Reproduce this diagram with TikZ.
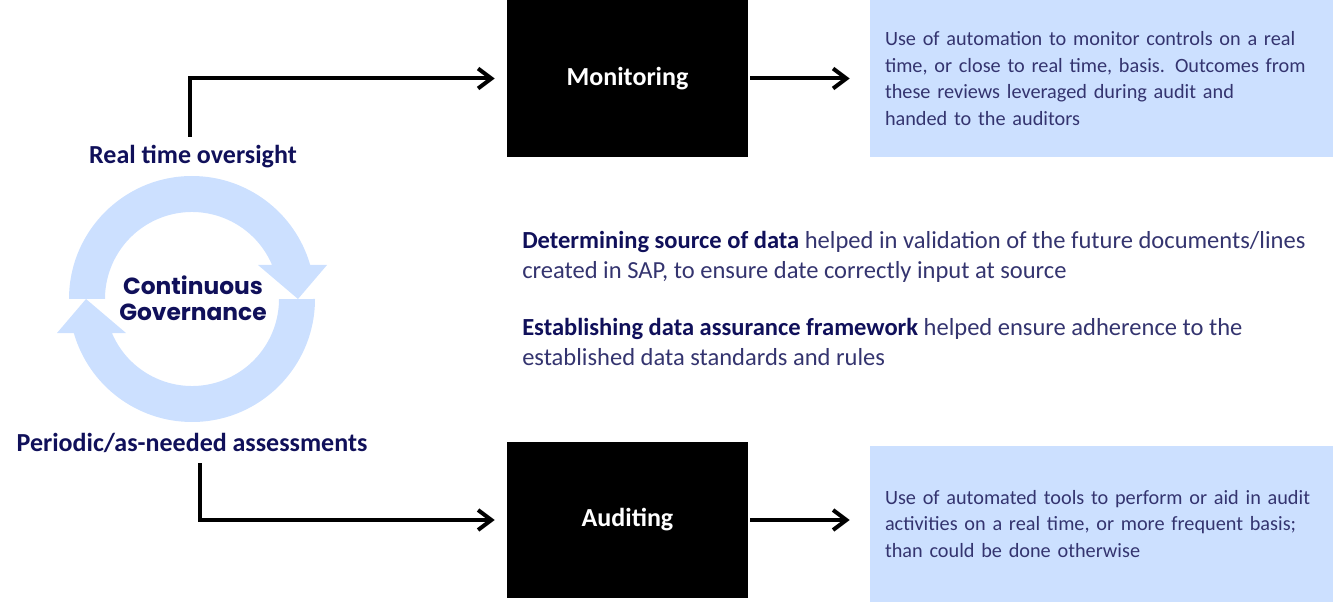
\documentclass[tikz,border=0pt]{standalone}
\usepackage{fontspec}
\setmainfont{Carlito}
\newfontfamily\headfont{Poppins}
\usetikzlibrary{arrows.meta}
\definecolor{navy}{HTML}{10105A}
\definecolor{bodyblue}{HTML}{34346F}
\definecolor{paleblue}{HTML}{CCE0FF}

\begin{document}
\begin{tikzpicture}[x=0.75pt,y=-0.75pt]
\tikzset{blackbox/.style = {fill=black,text=white,inner sep=0,minimum width=180.75pt,minimum height=117.75pt,font=\fontsize{19.5}{22}\selectfont\bfseries}}
\tikzset{notebox/.style = {fill=paleblue,text=bodyblue,inner xsep=11.25pt,inner ysep=0,text width=324.75pt,minimum height=117.75pt,align=left,font=\fontsize{15.2}{19.8}\selectfont}}
\tikzset{label/.style = {text=navy,inner sep=0,font=\fontsize{19.5}{22}\selectfont\bfseries}}
\tikzset{para/.style = {text=bodyblue,inner sep=0,align=left,anchor=west,font=\fontsize{18.4}{22.5}\selectfont}}
\tikzset{flow/.style = {line width=3pt,-{Straight Barb[length=10pt,width=15pt]}}}
\useasboundingbox (0,0) rectangle (1335,602);

% circular arrows
\foreach \r in {0,180}
  \fill[paleblue,shift={(192,299)},rotate=\r] (180:123)
    arc[start angle=180,end angle=343.94,radius=123] -- (135,-34) -- (106,0)
    -- (66,-34) -- (80.08,-34) arc[start angle=337,end angle=180,radius=87] -- cycle;
\node[text=navy,align=center,font=\headfont\fontsize{17.5}{19.5}\selectfont\bfseries] (cg) at (193,298) {Continuous\\Governance};

\node[label] (rto) at (193,157) {Real time oversight};
\node[label] (pna) at (192,443) {Periodic/as-needed assessments};
\coordinate (rtotop) at (190,137);
\coordinate (pnabot) at (200,463);

\node[blackbox] (mon) at (627.5,78.5) {Monitoring};
\node[blackbox,minimum height=117pt] (aud) at (627.5,520) {Auditing};
\node[notebox] (monnote) at (1101.5,78.5) {Use of automation to monitor controls on a real\\time, or close to real time, basis. Outcomes from\\these reviews leveraged during audit and\\handed to the auditors};
\node[notebox,minimum height=117pt] (audnote) at (1101.5,524) {Use of automated tools to perform or aid in audit\\activities on a real time, or more frequent basis;\\than could be done otherwise};

\node[para] (src) at (522,257) {{\color{navy}\bfseries Determining source of data} helped in validation of the future documents/lines\\created in SAP, to ensure date correctly input at source};
\node[para] (fwk) at (522,342) {{\color{navy}\bfseries Establishing data assurance framework} helped ensure adherence to the\\established data standards and rules};

\draw[flow] (rtotop) |- ([xshift=-9pt]mon.west);
\draw[flow] (pnabot) |- ([xshift=-9pt]aud.west);
\draw[flow] ([xshift=1.5pt]mon.east) -- ([xshift=-15pt]monnote.west |- mon.east);
\draw[flow] ([xshift=1.5pt]aud.east) -- ([xshift=-15pt]audnote.west |- aud.east);
\end{tikzpicture}
\end{document}
